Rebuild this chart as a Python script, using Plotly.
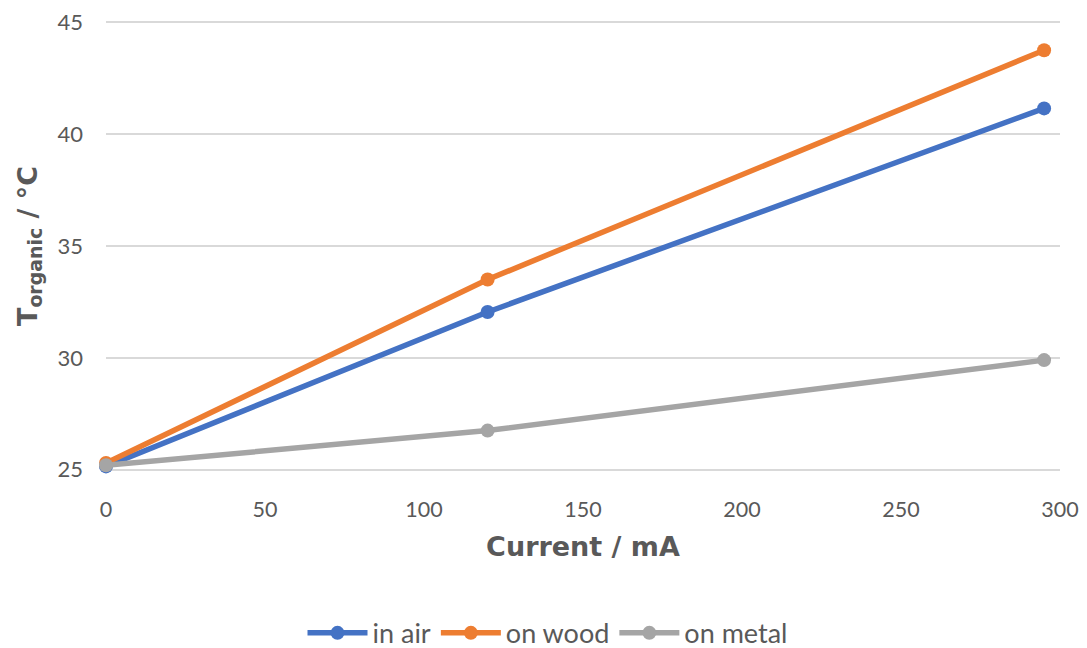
import plotly.graph_objects as go

current_mA = [0, 120, 295]
in_air = [25.15, 32.05, 41.15]
on_wood = [25.3, 33.5, 43.75]
on_metal = [25.2, 26.75, 29.9]
series_names = ["in air", "on wood", "on metal"]
colors = ["#4472C4", "#ED7D31", "#A5A5A5"]

fig = go.Figure()
for name, vals, col in zip(series_names, [in_air, on_wood, on_metal], colors):
    fig.add_trace(go.Scatter(
        x=current_mA, y=vals, name=name, mode="lines+markers",
        line=dict(color=col, width=5.5), marker=dict(color=col, size=14),
        cliponaxis=False,
    ))

font_family = "Lato, 'Open Sans', sans-serif"
title_family = "'DejaVu Sans', sans-serif"
fig.update_layout(
    width=1079, height=640,
    paper_bgcolor="white", plot_bgcolor="white",
    margin=dict(l=98, r=27, t=12, b=176, autoexpand=False),
    font=dict(family=font_family, color="#595959", size=22),
    xaxis=dict(
        range=[0, 300], tickvals=[0, 50, 100, 150, 200, 250, 300],
        showgrid=False, zeroline=False, showline=False, ticks="",
        ticklabelstandoff=22, automargin=False, ticklabeloverflow="allow",
        tickfont=dict(size=21.5, color="#595959"),
        title=dict(text="<b>Current / mA</b>",
                   font=dict(family=title_family, size=27, color="#595959"), standoff=16),
    ),
    yaxis=dict(
        range=[24.9, 45.1], tickvals=[25, 30, 35, 40, 45],
        showgrid=True, gridcolor="#D9D9D9", gridwidth=2,
        zeroline=False, showline=False, ticks="",
        ticklabelstandoff=22, automargin=False, ticklabeloverflow="allow",
        tickfont=dict(size=22, color="#595959"),
        title=dict(text="<b>T<sub>organic</sub> / °C</b>",
                   font=dict(family=title_family, size=27, color="#595959"), standoff=12),
    ),
    legend=dict(
        orientation="h", xref="container", yref="container",
        x=0.5, xanchor="center", y=0.023, yanchor="middle",
        font=dict(size=27, color="#595959"), itemwidth=60,
    ),
)
fig.write_html("out.html")
